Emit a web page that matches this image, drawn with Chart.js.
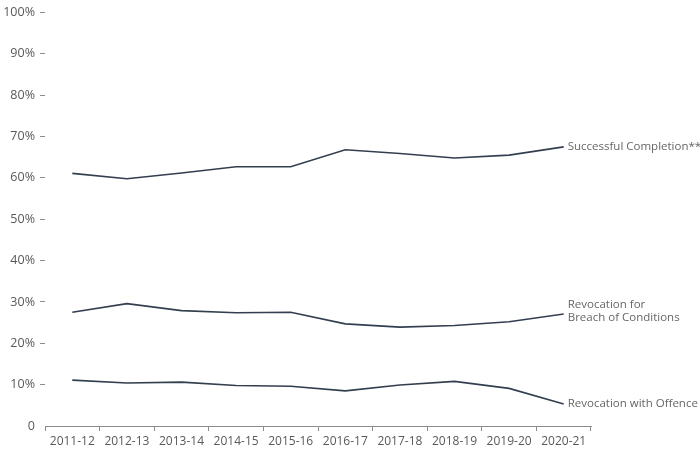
<!DOCTYPE html>
<html>
<head>
<meta charset="utf-8">
<script src="https://cdn.jsdelivr.net/npm/chart.js@4"></script>
<style>
  html,body{margin:0;padding:0;background:#fff;}
  canvas{display:block;}
</style>
</head>
<body>
<canvas id="chart" width="700" height="452"></canvas>
<script>
const years = ['2011-12','2012-13','2013-14','2014-15','2015-16','2016-17','2017-18','2018-19','2019-20','2020-21'];
const successful = [61.1, 59.8, 61.2, 62.7, 62.7, 66.8, 65.9, 64.8, 65.5, 67.5];
const breach = [27.5, 29.6, 27.9, 27.4, 27.5, 24.7, 23.9, 24.3, 25.2, 27.1];
const offence = [11.1, 10.4, 10.6, 9.8, 9.6, 8.5, 9.9, 10.8, 9.1, 5.3];
const yTicks = [0,10,20,30,40,50,60,70,80,90,100];

const lineColor = '#333f50';
const textColor = '#666666';
const fontFamily = '"Open Sans", "Noto Sans", sans-serif';

// series name drawn at the end of each line
const endLabels = [
  {lines:['Successful Completion**'], dy:0},
  {lines:['Revocation for','Breach of Conditions'], dy:-2.5},
  {lines:['Revocation with Offence'], dy:0}
];

const endLabelPlugin = {
  id:'endLabels',
  afterDatasetsDraw(chart){
    const ctx = chart.ctx;
    ctx.save();
    ctx.font = '11.5px ' + fontFamily;
    ctx.fillStyle = textColor;
    ctx.textAlign = 'left';
    ctx.textBaseline = 'middle';
    chart.data.datasets.forEach((ds,i)=>{
      const pt = chart.getDatasetMeta(i).data.at(-1);
      const lab = endLabels[i];
      const lh = 13;
      const top = pt.y + lab.dy - (lab.lines.length-1)*lh/2;
      lab.lines.forEach((t,j)=>ctx.fillText(t, pt.x + 4, top + j*lh));
    });
    ctx.restore();
  }
};

const mk = (label,data)=>({label, data, borderColor:lineColor, borderWidth:1.6, pointRadius:0, fill:false, tension:0});

new Chart(document.getElementById('chart'), {
  type:'line',
  data:{labels:years, datasets:[mk('Successful Completion**',successful), mk('Revocation for Breach of Conditions',breach), mk('Revocation with Offence',offence)]},
  options:{
    responsive:false,
    animation:false,
    events:[],
    layout:{padding:{top:10,right:109,bottom:0,left:0}},
    plugins:{legend:{display:false}, tooltip:{enabled:false}},
    scales:{
      x:{
        offset:true,
        grid:{display:true, drawOnChartArea:false, drawTicks:true, tickLength:5, color:'#8c8c8c', offset:true},
        border:{display:true, color:'#8c8c8c', width:1},
        ticks:{color:'#595959', font:{family:fontFamily, size:12}, padding:3, maxRotation:0, autoSkip:false},
        afterFit(s){ s.height = 26; }
      },
      y:{
        min:0, max:100,
        afterBuildTicks(s){ s.ticks = yTicks.map(v=>({value:v})); },
        grid:{display:true, drawOnChartArea:false, drawTicks:true, tickLength:5, tickColor:c=>c.tick && c.tick.value===0 ? 'rgba(0,0,0,0)' : '#8c8c8c', tickWidth:1},
        border:{display:false},
        ticks:{color:'#595959', font:{family:fontFamily, size:12.5}, padding:5, callback:v=> v===0 ? '0' : v+'%'},
        afterFit(s){ s.width = 45; }
      }
    }
  },
  plugins:[endLabelPlugin]
});
</script>
</body>
</html>
